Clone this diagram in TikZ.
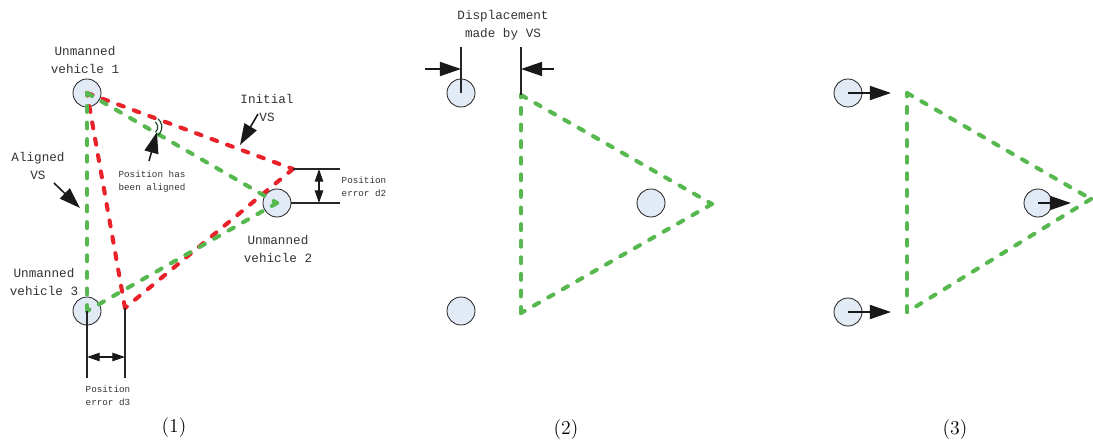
\documentclass[tikz,border=0pt]{standalone}
\usepackage{fontspec}
\newfontfamily\vsmono{Liberation Mono}
\usetikzlibrary{arrows.meta, positioning}

\definecolor{vsgreen}{RGB}{88,184,80}
\definecolor{vsred}{RGB}{232,34,40}
\definecolor{carfill}{RGB}{226,234,246}
\definecolor{arcgreen}{RGB}{20,72,40}

\begin{document}
\begin{tikzpicture}[x=0.025cm, y=-0.025cm,
  vehicle/.style={circle, draw=black!85, fill=carfill, line width=0.6pt, minimum size=7mm, inner sep=0pt},
  greenvs/.style={vsgreen, line width=2.9pt, line cap=round, dash pattern=on 4.2pt off 7.6pt},
  redvs/.style={vsred, line width=2.9pt, line cap=round, dash pattern=on 4.2pt off 7.6pt},
  guide/.style={black!85, line width=0.8pt},
  bigarrow/.style={black!90, line width=1.1pt, -{Triangle[length=15pt, width=10pt]}},
  dimarrow/.style={black!90, line width=0.9pt, {Triangle[length=9pt, width=6pt]}-{Triangle[length=9pt, width=6pt]}},
  lbl/.style={font=\vsmono\fontsize{9}{12.8}\selectfont, text=black!80, align=center, inner sep=0pt},
  smalllbl/.style={font=\vsmono\fontsize{6.6}{9.2}\selectfont, text=black!80, align=left, inner sep=0pt},
  caption/.style={font=\fontsize{14}{16}\selectfont, inner sep=0pt}]

\useasboundingbox (0,0) rectangle (1093,441);

% ---------- (1) ----------
\node[vehicle] (a1) at (87,93) {};
\node[vehicle] (a2) at (277,203) {};
\node[vehicle] (a3) at (87,311) {};
\coordinate (r2) at (293,169);
\coordinate (r3) at (125,308);

% initial VS (red) and aligned VS (green)
\draw[redvs] (a1.center) -- (r2);
\draw[redvs] (r2) -- (r3);
\draw[redvs] (r3) -- (a1.center);
\draw[greenvs] (a1.center) -- (a2.center);
\draw[greenvs] (a2.center) -- (a3.center);
\draw[greenvs] (a3.center) -- (a1.center);

% aligned angle mark
\coordinate (mark) at (151,127);
\draw[arcgreen, line width=0.8pt] ([shift={(-50:0.17cm)}]mark) arc[start angle=-50, end angle=50, radius=0.17cm];
\draw[arcgreen, line width=0.8pt] ([shift={(-50:0.27cm)}]mark) arc[start angle=-50, end angle=50, radius=0.27cm];

\node[lbl] (n1) at (85,60) {Unmanned\\vehicle 1};
\node[lbl] (n2) at (278,249) {Unmanned\\vehicle 2};
\node[lbl] (n3) at (44,282) {Unmanned\\vehicle 3};
\node[lbl] (initvs) at (267,108) {Initial\\VS};
\node[lbl] (alignvs) at (38,166) {Aligned\\VS};
\node[smalllbl] (aligned) at (152,182) {Position has\\been aligned};

\coordinate (initfrom) at (258,114);
\coordinate (initto) at (240,145);
\coordinate (alignfrom) at (54,183);
\coordinate (alignto) at (80,208);
\coordinate (posfrom) at (149,161);
\coordinate (posto) at (157,132);
\draw[bigarrow] (initfrom) -- (initto);
\draw[bigarrow] (alignfrom) -- (alignto);
\draw[bigarrow] (posfrom) -- (posto);

% position error d2
\coordinate (d2top) at (340,169);
\coordinate (d2bot) at (340,203);
\draw[guide] (r2) -- (d2top);
\draw[guide] (a2.east) -- (d2bot);
\coordinate (d2a) at (319,169);
\coordinate (d2b) at (319,203);
\draw[dimarrow] (d2a) -- (d2b);
\node[smalllbl] (err2) at (364,187) {Position\\error d2};

% position error d3
\coordinate (d3left) at (87,378);
\coordinate (d3right) at (125,378);
\draw[guide] (a3.center) -- (d3left);
\draw[guide] (r3) -- (d3right);
\coordinate (d3a) at (87,357);
\coordinate (d3b) at (125,357);
\draw[dimarrow] (d3a) -- (d3b);
\node[smalllbl] (err3) at (108,396) {Position\\error d3};

\node[caption] (cap1) at (174,428) {(1)};

% ---------- (2) ----------
\node[vehicle] (b1) at (461,93) {};
\node[vehicle] (b2) at (651,203) {};
\node[vehicle] (b3) at (461,311) {};
\coordinate (g1) at (521,95);
\coordinate (g2) at (712,204);
\coordinate (g3) at (521,313);
\draw[greenvs] (g1) -- (g2);
\draw[greenvs] (g2) -- (g3);
\draw[greenvs] (g3) -- (g1);

\coordinate (m1) at (461,47);
\coordinate (m2) at (521,47);
\draw[guide] (b1.center) -- (m1);
\draw[guide] (g1) -- (m2);
\coordinate (p1from) at (425,69);
\coordinate (p1to) at (461,69);
\coordinate (p2from) at (554,69);
\coordinate (p2to) at (521,69);
\draw[bigarrow] (p1from) -- (p1to);
\draw[bigarrow] (p2from) -- (p2to);
\node[lbl] (disp) at (503,25) {Displacement\\made by VS};

\node[caption] (cap2) at (566,430) {(2)};

% ---------- (3) ----------
\node[vehicle] (c1) at (848,93) {};
\node[vehicle] (c2) at (1038,203) {};
\node[vehicle] (c3) at (848,312) {};
\coordinate (h1) at (907,93);
\coordinate (h2) at (1091,199);
\coordinate (h3) at (907,312);
\draw[greenvs] (h1) -- (h2);
\draw[greenvs] (h2) -- (h3);
\draw[greenvs] (h3) -- (h1);

\coordinate (t1) at (891,93);
\coordinate (t2) at (1071,203);
\coordinate (t3) at (891,312);
\draw[bigarrow] (c1.center) -- (t1);
\draw[bigarrow] (c2.center) -- (t2);
\draw[bigarrow] (c3.center) -- (t3);

\node[caption] (cap3) at (955,430) {(3)};

\end{tikzpicture}
\end{document}
